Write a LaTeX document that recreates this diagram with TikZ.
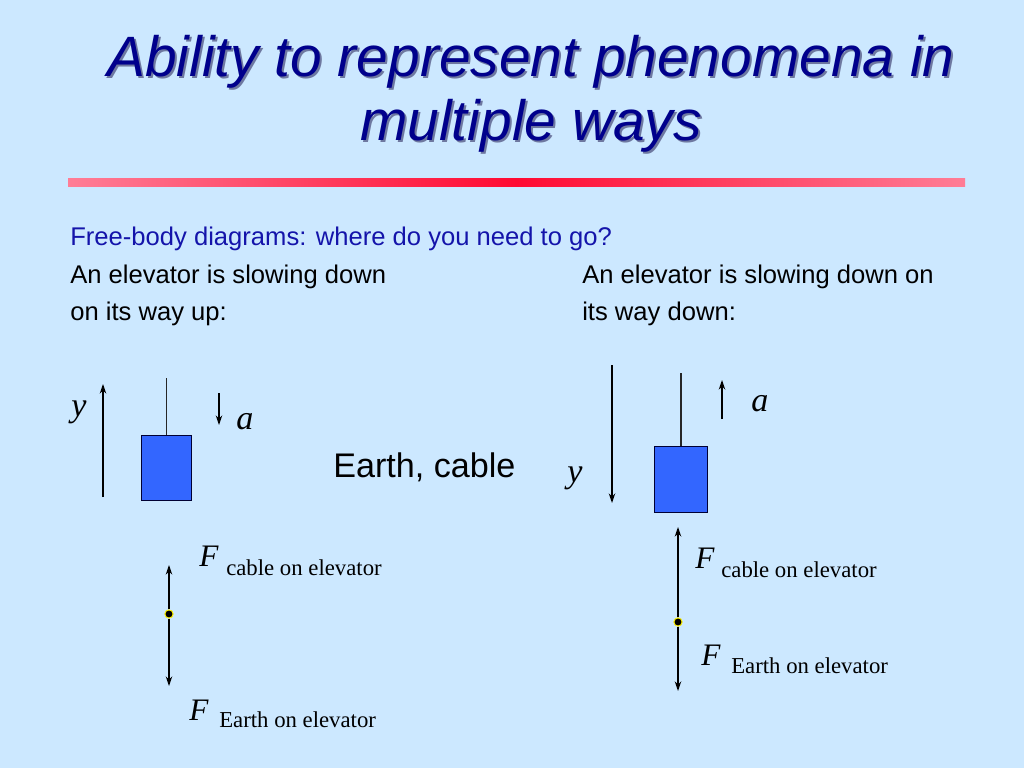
\documentclass[tikz,border=0pt]{standalone}
\usepackage{fontspec}
\setmainfont{Liberation Sans}
\newfontfamily\serifface{Liberation Serif}
\usetikzlibrary{arrows.meta}
\definecolor{bg}{RGB}{204,232,255}
\definecolor{titleblue}{RGB}{0,0,140}
\definecolor{shadowc}{RGB}{110,120,160}
\definecolor{bodyblue}{RGB}{20,20,170}
\definecolor{boxblue}{RGB}{51,102,255}
\definecolor{barpink}{RGB}{255,125,150}
\definecolor{barred}{RGB}{255,10,50}
\begin{document}
\begin{tikzpicture}[x=0.703125pt,y=-0.703125pt,
  titletext/.style={font=\fontsize{40}{48}\selectfont\itshape, text=titleblue, anchor=base, inner sep=0pt},
  shadowtext/.style={titletext, text=shadowc},
  body/.style={font=\fontsize{18}{21}\selectfont, anchor=base west, inner sep=0pt},
  big/.style={font=\fontsize{24}{28}\selectfont, anchor=base west, inner sep=0pt},
  sym/.style={font=\serifface\itshape\fontsize{24}{28}\selectfont, anchor=base west, inner sep=0pt},
  flab/.style={font=\serifface\itshape\fontsize{22}{26}\selectfont, anchor=base west, inner sep=0pt},
  sub/.style={font=\serifface\fontsize{16}{19}\selectfont, anchor=base west, inner sep=0pt},
  vec/.style={line width=1pt, -{Stealth[length=6.8pt,width=4.6pt]}},
  cable/.style={line width=0.9pt, draw=black!85},
  elev/.style={draw=black!80!blue, line width=0.7pt, fill=boxblue, inner sep=0pt},
  pt/.style={circle, fill=black, draw=yellow, line width=0.7pt, minimum size=5.8pt, inner sep=0pt}
]
\fill[bg] (0,0) rectangle (1024,768);
\useasboundingbox (0,0) rectangle (1024,768);

% title
\node[shadowtext] (t1s) at (533,79) {Ability to represent phenomena in};
\node[titletext] (t1) at (531,77) {Ability to represent phenomena in};
\node[shadowtext] (t2s) at (533,143) {multiple ways};
\node[titletext] (t2) at (531,141) {multiple ways};

% bar
\shade[left color=barpink, right color=barpink, middle color=barred] (68,179) rectangle (965,187);

% body text
\node[body, text=bodyblue] (q) at (70,246) {Free-body diagrams: where do you need to go?};
\node[body] (l1) at (70,284) {An elevator is slowing down};
\node[body] (l2) at (70,320.5) {on its way up:};
\node[body] (r1) at (582,284) {An elevator is slowing down on};
\node[body] (r2) at (582,320.5) {its way down:};
\node[big] (ec) at (333,477) {Earth, cable};

% left elevator
\coordinate (yL0) at (103,497);
\coordinate (yL1) at (103,384);
\draw[vec] (yL0) -- (yL1);
\node[sym] (yLl) at (71,416) {y};
\node[elev, minimum width=34.5pt, minimum height=45.7pt] (boxL) at (166.5,467.5) {};
\coordinate (cL) at (166.5,378);
\draw[cable] (cL) -- (boxL.north);
\coordinate (aL0) at (219,393);
\coordinate (aL1) at (219,425);
\draw[vec] (aL0) -- (aL1);
\node[sym] (aLl) at (236,429) {a};

\node[pt] (dL) at (169,614) {};
\coordinate (fLu) at (169,565);
\coordinate (fLd) at (169,686);
\draw[vec] (dL) -- (fLu);
\draw[vec] (dL) -- (fLd);
\node[flab] (FcL) at (199,566) {F};
\node[sub] (scL) at (226,575) {cable on elevator};
\node[flab] (FeL) at (189,720) {F};
\node[sub] (seL) at (219,727) {Earth on elevator};

% right elevator
\coordinate (yR0) at (612,365);
\coordinate (yR1) at (612,503);
\draw[vec] (yR0) -- (yR1);
\node[sym] (yRl) at (567,482) {y};
\node[elev, minimum width=36.6pt, minimum height=46.4pt] (boxR) at (681,479) {};
\coordinate (cR) at (681,373);
\draw[cable] (cR) -- (boxR.north);
\coordinate (aR0) at (722,419);
\coordinate (aR1) at (722,380);
\draw[vec] (aR0) -- (aR1);
\node[sym] (aRl) at (751,411) {a};

\node[pt] (dR) at (678,622) {};
\coordinate (fRu) at (678,527);
\coordinate (fRd) at (678,691);
\draw[vec] (dR) -- (fRu);
\draw[vec] (dR) -- (fRd);
\node[flab] (FcR) at (695,568) {F};
\node[sub] (scR) at (721,577) {cable on elevator};
\node[flab] (FeR) at (701,665) {F};
\node[sub] (seR) at (731,673) {Earth on elevator};
\end{tikzpicture}
\end{document}
